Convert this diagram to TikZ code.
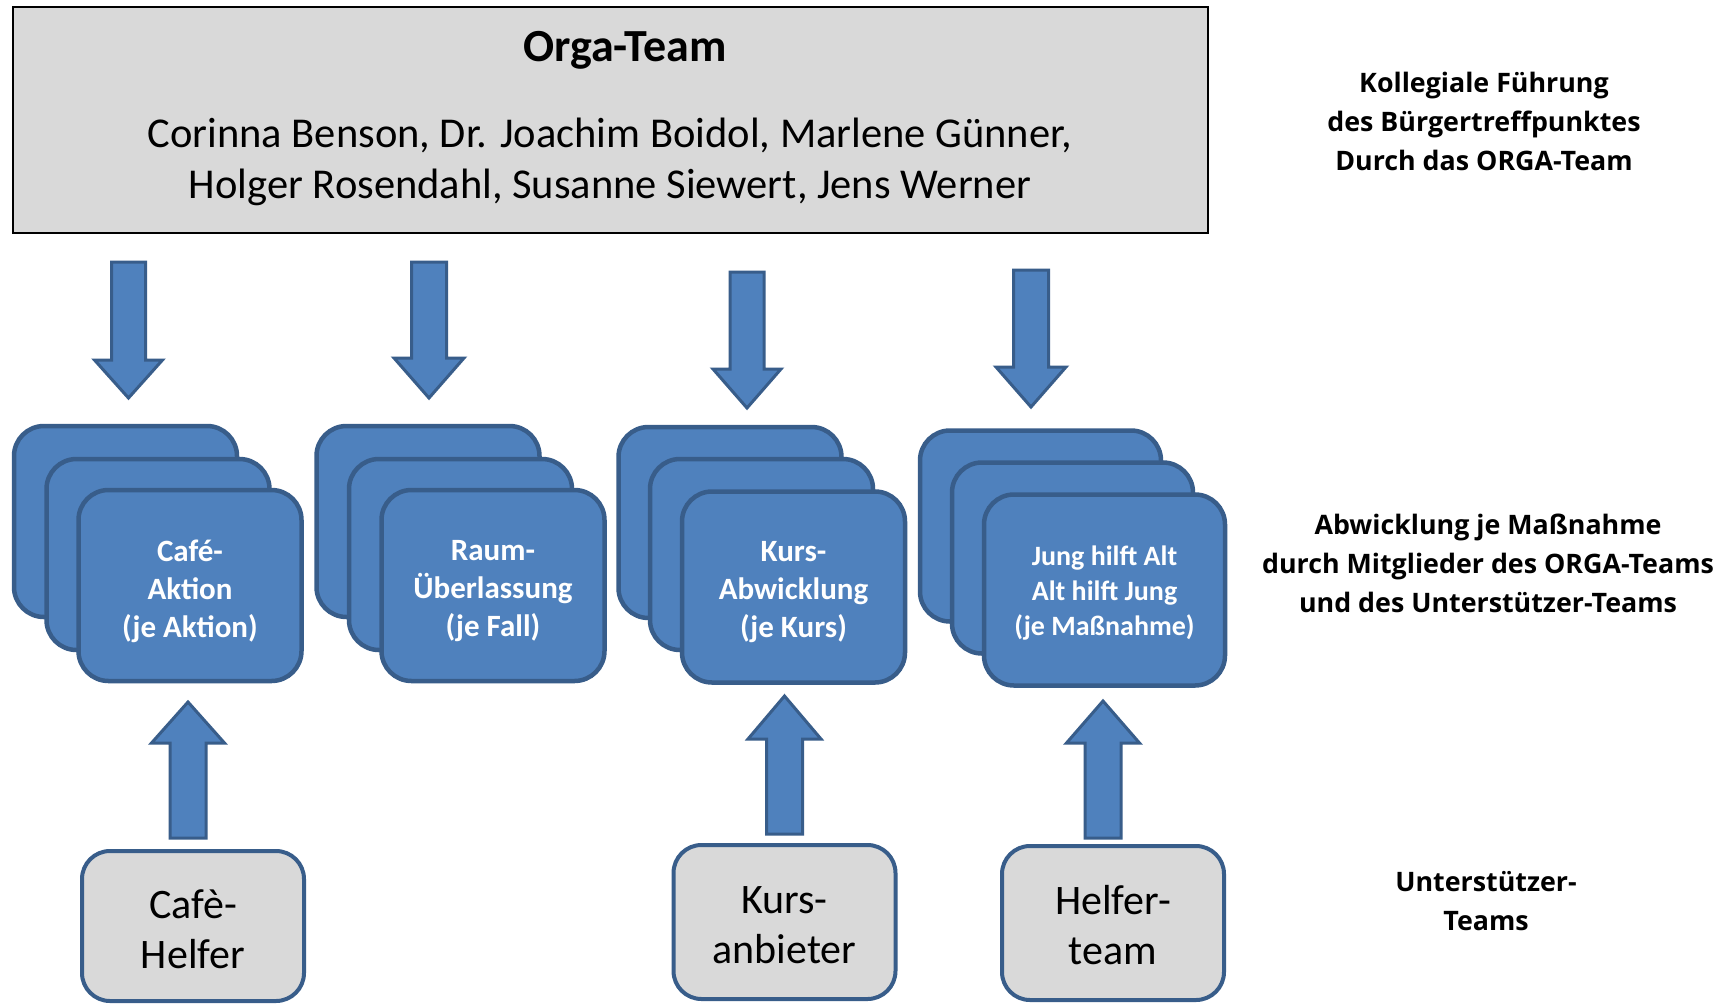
\documentclass[tikz,border=0pt]{standalone}
\usepackage{fontspec}
\setmainfont{Carlito}
\newfontfamily\sidefont{Open Sans}
\definecolor{boxblue}{RGB}{79,129,189}
\definecolor{edgeblue}{RGB}{56,93,138}
\definecolor{boxgray}{RGB}{217,217,217}
\newcommand\bArrowDown[7]{% name, cx, ytop, ybase, ytip, shaft hw, head hw
  \draw[blockarrow] (#2-#6,#3) -- (#2+#6,#3) -- (#2+#6,#4) -- (#2+#7,#4) -- (#2,#5) coordinate (#1) -- (#2-#7,#4) -- (#2-#6,#4) -- cycle;}
\begin{document}
\begin{tikzpicture}[x=1pt,y=-1pt,
  blockarrow/.style={draw=edgeblue, fill=boxblue, line width=3pt, line join=miter},
  stackbox/.style={draw=edgeblue, fill=boxblue, line width=4.5pt, rounded corners=30pt,
     minimum width=223pt, minimum height=191pt, inner sep=0pt},
  stacktext/.style={align=center, text=white, inner sep=0pt,
     font=\bfseries\fontsize{31}{38}\selectfont},
  helperbox/.style={draw=edgeblue, fill=boxgray, line width=4pt, rounded corners=28pt,
     minimum width=222pt, inner sep=0pt},
  helpertext/.style={align=center, text=black, inner sep=0pt,
     font=\fontsize{42}{50}\selectfont},
  sidetext/.style={align=center, inner sep=0pt, font=\sidefont\bfseries\fontsize{26.8}{39}\selectfont}
]
\useasboundingbox (0,0) rectangle (1733,1005);
\fill[white] (0,0) rectangle (1733,1005);

% top box
\node[draw=black, fill=boxgray, line width=2pt, minimum width=1195pt, minimum height=226pt, inner sep=0pt] (orga) at (610.5,120) {};
\node[font=\bfseries\fontsize{46}{50}\selectfont, inner sep=0pt] (orgatitle) at (625,50) {Orga-Team};
\node[font=\fontsize{42.5}{51}\selectfont, align=center, inner sep=0pt] (organames) at (610,162)
  {Corinna Benson, Dr. Joachim Boidol, Marlene Günner,\\Holger Rosendahl, Susanne Siewert, Jens Werner};

% down arrows
\bArrowDown{d1}{128.5}{262}{360}{398}{17}{34}
\bArrowDown{d2}{429}{262}{358}{398}{17.5}{35}
\bArrowDown{d3}{747}{272}{369}{408}{17}{34}
\bArrowDown{d4}{1031}{270}{367}{407}{17.5}{35}

% stacked boxes
\node[stackbox] (g1a) at (125.5,521.5) {};
\node[stackbox] (g1b) at (158,554.5) {};
\node[stackbox] (g1c) at (190,585.5) {};
\node[stacktext] (t1) at (190,591) {Café-\\Aktion\\(je Aktion)};

\node[stackbox] (g2a) at (428,521.5) {};
\node[stackbox] (g2b) at (460.5,554.5) {};
\node[stackbox] (g2c) at (493,585.5) {};
\node[stacktext] (t2) at (493,591) {Raum-\\Überlassung\\(je Fall)};

\node[stackbox] (g3a) at (730,522.5) {};
\node[stackbox] (g3b) at (761.5,554.5) {};
\node[stackbox] (g3c) at (793.5,587) {};
\node[stacktext] (t3) at (793.5,592) {Kurs-\\Abwicklung\\(je Kurs)};

\node[stackbox, minimum width=241pt] (g4a) at (1040.5,526) {};
\node[stackbox, minimum width=241pt] (g4b) at (1072.5,558) {};
\node[stackbox, minimum width=241pt] (g4c) at (1104.5,590) {};
\node[stacktext, font=\bfseries\fontsize{28}{35}\selectfont] (t4) at (1104.5,593.5) {Jung hilft Alt\\Alt hilft Jung\\(je Maßnahme)};

% helper boxes
\node[helperbox, minimum height=150pt] (h1) at (193,926) {};
\node[helpertext] (ht1) at (193,929.5) {Cafè-\\Helfer};
\node[helperbox, minimum height=154pt] (h2) at (784.5,922) {};
\node[helpertext] (ht2) at (784.5,925.5) {Kurs-\\anbieter};
\node[helperbox, minimum height=154pt] (h3) at (1113,923) {};
\node[helpertext] (ht3) at (1113,925.5) {Helfer-\\team};

% up arrows
\draw[blockarrow] (170,838) -- (206,838) -- (206,743) -- (224.5,743) -- (188,702) -- (151.5,743) -- (170,743) -- cycle;
\draw[blockarrow] (766.5,834) -- (802.5,834) -- (802.5,739) -- (821,739) -- (784.5,696) -- (748,739) -- (766.5,739) -- cycle;
\draw[blockarrow] (1085,838) -- (1121,838) -- (1121,743) -- (1139.5,743) -- (1103,701) -- (1066.5,743) -- (1085,743) -- cycle;

% side texts
\node[sidetext] (s1) at (1484,121) {Kollegiale Führung\\des Bürgertreffpunktes\\Durch das ORGA-Team};
\node[sidetext] (s2) at (1488,563) {Abwicklung je Maßnahme\\durch Mitglieder des ORGA-Teams\\und des Unterstützer-Teams};
\node[sidetext] (s3) at (1486,901) {Unterstützer-\\Teams};
\end{tikzpicture}
\end{document}
